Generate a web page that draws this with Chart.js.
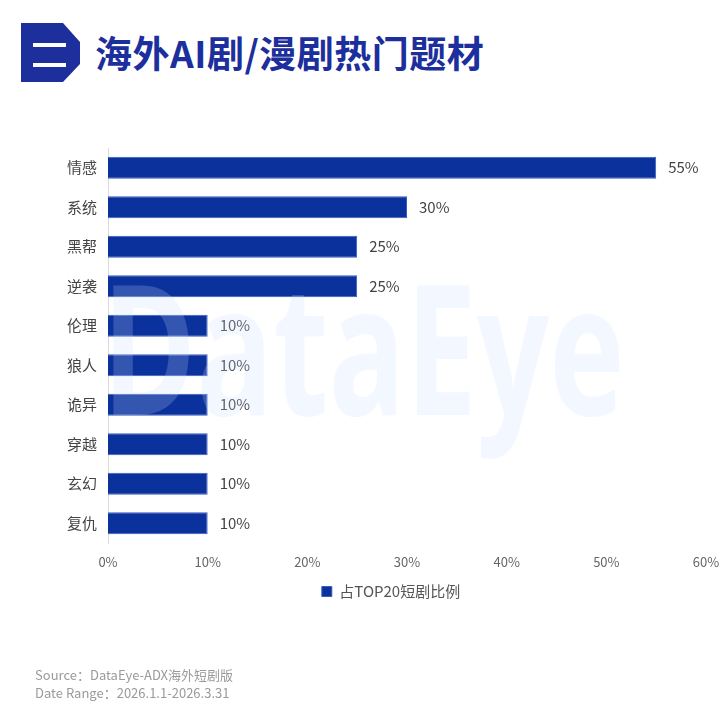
<!DOCTYPE html>
<html>
<head>
<meta charset="utf-8">
<script src="https://cdn.jsdelivr.net/npm/chart.js@4/dist/chart.umd.min.js"></script>
<style>
  html, body { margin: 0; padding: 0; background: #fff; }
  body { width: 726px; height: 711px; position: relative; overflow: hidden; font-family: "Noto Sans CJK SC", "Noto Sans", sans-serif; }
  #badge { position: absolute; left: 21px; top: 23px; }
  #title { position: absolute; left: 95px; top: 28px; font-size: 37px; font-weight: bold; color: #1c2f9c; line-height: 48px; white-space: nowrap; letter-spacing: 0.5px; }
  #wrap { position: absolute; left: 0; top: 0; width: 726px; height: 711px; }
  .src { position: absolute; left: 35px; font-size: 13px; color: #9a9a9a; white-space: nowrap; }
</style>
</head>
<body>
<svg id="badge" width="60" height="60" viewBox="0 0 60 60">
  <polygon points="0,0 42,0 59,19 59,41 42,59 0,59" fill="#1c2f9c"/>
  <rect x="12" y="20" width="33" height="4" fill="#fff"/>
  <rect x="12" y="40" width="33" height="4" fill="#fff"/>
</svg>
<div id="title">海外AI剧/漫剧热门题材</div>
<div id="wrap"><canvas id="chart" width="726" height="711"></canvas></div>
<div class="src" style="top:665px">Source：DataEye-ADX海外短剧版</div>
<div class="src" style="top:683px">Date Range：2026.1.1-2026.3.31</div>
<script>
const categories = ['情感', '系统', '黑帮', '逆袭', '伦理', '狼人', '诡异', '穿越', '玄幻', '复仇'];
const shareValues = [55, 30, 25, 25, 10, 10, 10, 10, 10, 10];
const seriesLabel = '占TOP20短剧比例';
const xTicks = [0, 10, 20, 30, 40, 50, 60];
const barColor = '#0b319c';

const valueLabels = {
  id: 'valueLabels',
  afterDatasetsDraw(chart) {
    const ctx = chart.ctx;
    const meta = chart.getDatasetMeta(0);
    ctx.save();
    ctx.font = '15px "Noto Sans CJK SC", sans-serif';
    ctx.fillStyle = '#444';
    ctx.textAlign = 'left';
    ctx.textBaseline = 'middle';
    meta.data.forEach((bar, i) => {
      ctx.fillText(shareValues[i] + '%', bar.x + 12, bar.y);
    });
    ctx.restore();
  }
};

const watermark = {
  id: 'watermark',
  afterDatasetsDraw(chart) {
    const ctx = chart.ctx;
    ctx.save();
    ctx.translate(102, 415);
    ctx.scale(0.7, 1);
    ctx.font = 'bold 182px "Open Sans", sans-serif';
    ctx.fillStyle = 'rgba(200,220,255,0.22)';
    ctx.textAlign = 'left';
    ctx.textBaseline = 'alphabetic';
    ctx.fillText('DataEye', 0, 0);
    ctx.restore();
  }
};

// nudge the legend so it sits a bit right of the page centre, as in the source
const legendShift = {
  id: 'legendShift',
  afterLayout(chart) {
    const lg = chart.legend;
    if (!lg) return;
    const dx = 391 - (lg.left + lg.right) / 2;
    lg.left += dx;
    lg.right += dx;
  }
};

new Chart(document.getElementById('chart'), {
  type: 'bar',
  data: {
    labels: categories,
    datasets: [{
      label: seriesLabel,
      data: shareValues,
      backgroundColor: barColor,
      borderColor: '#3a5cc0',
      borderWidth: 1,
      categoryPercentage: 1,
      barPercentage: 0.56
    }]
  },
  options: {
    indexAxis: 'y',
    responsive: false,
    animation: false,
    layout: { padding: { left: 0, right: 20, top: 148, bottom: 102 } },
    scales: {
      x: {
        min: 0,
        max: 60,
        afterBuildTicks(scale) { scale.ticks = xTicks.map(v => ({ value: v })); },
        afterFit(scale) { scale.height = 38; scale.paddingRight = 0; },
        grid: { display: false, drawTicks: false },
        border: { display: false },
        ticks: {
          padding: 11,
          color: '#666',
          font: { size: 13, family: '"Noto Sans CJK SC", sans-serif' },
          callback: v => v + '%'
        }
      },
      y: {
        afterFit(scale) { scale.width = 108; },
        grid: { display: false, drawTicks: false },
        border: { display: true, color: '#d9d9d9', width: 1 },
        ticks: {
          padding: 11,
          color: '#444',
          font: { size: 15, family: '"Noto Sans CJK SC", sans-serif' }
        }
      }
    },
    plugins: {
      legend: {
        position: 'bottom',
        labels: {
          boxWidth: 10,
          boxHeight: 10,
          color: '#555',
          padding: 3,
          font: { size: 15, family: '"Noto Sans CJK SC", sans-serif' }
        }
      },
      tooltip: { enabled: false }
    }
  },
  plugins: [valueLabels, watermark, legendShift]
});
</script>
</body>
</html>
